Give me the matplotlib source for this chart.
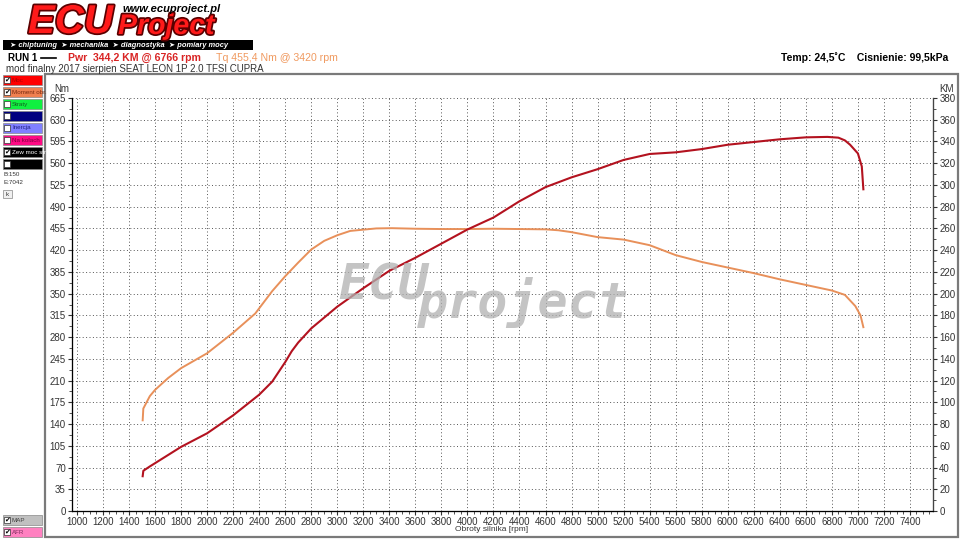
import matplotlib
matplotlib.use("Agg")
import matplotlib.pyplot as plt
from matplotlib.patches import Rectangle
from matplotlib.ticker import MultipleLocator
import matplotlib.patheffects as pe

plt.rcParams['font.family'] = ['Liberation Sans', 'DejaVu Sans']

# torque curve [rpm, Nm]
tq_rpm = [1505, 1510, 1560, 1600, 1700, 1800, 2000, 2200, 2370, 2500, 2600, 2700, 2800, 2900,
          3000, 3100, 3200, 3300, 3420, 3600, 3800, 4000, 4200, 4400, 4600, 4700, 4800, 4900,
          5000, 5200, 5400, 5600, 5800, 6000, 6200, 6400, 6600, 6800, 6900, 6980, 7020, 7042]
tq_nm = [146, 165, 185, 195, 214, 230, 254, 287, 318, 354, 378, 400, 421, 435,
         444, 451, 453, 455, 455.4, 454.5, 454, 454, 454.5, 454, 453.5, 452, 449, 445,
         441, 437, 428, 412, 401, 392, 383, 373, 364, 355, 348, 330, 315, 296]

# power curve [rpm, KM]
pwr_rpm = [1505, 1510, 1560, 1600, 1800, 2000, 2200, 2400, 2500, 2550, 2600, 2650, 2700, 2800,
           3000, 3200, 3400, 3600, 3800, 4000, 4200, 4400, 4600, 4800, 5000, 5200, 5400, 5600,
           5800, 6000, 6200, 6400, 6600, 6766, 6850, 6900, 6940, 7000, 7030, 7042]
pwr_km = [32, 37, 41, 44, 59, 71.5, 88, 107, 119, 128, 137, 147, 155, 168,
          188, 205, 221, 233, 246, 259, 270, 285, 298, 307, 314.5, 323, 328.5, 330,
          333, 337, 339.5, 342, 343.8, 344.2, 343.5, 341, 337, 329, 317, 296]

x_ticks = list(range(1000, 7401, 200))
nm_ticks = list(range(0, 666, 35))
km_ticks = list(range(0, 381, 20))

W, H = 960, 540


def fx(x):
    return x / W


def fy(y):
    return 1 - y / H


fig = plt.figure(figsize=(9.6, 5.4), dpi=100, facecolor='white')

# plot panel frame
fig.add_artist(Rectangle((fx(45), fy(537)), (958 - 45) / W, (537 - 74) / H,
                         transform=fig.transFigure, fill=False, edgecolor='#7a7a7a', lw=1.6))

ax = fig.add_axes([fx(72), fy(511), (933 - 72) / W, (511 - 98) / H])
ax.set_xlim(962, 7577)
ax.set_ylim(0, 665)
ax.set_xticks(x_ticks)
ax.set_yticks(nm_ticks)
ax.xaxis.set_minor_locator(MultipleLocator(50))
ax.yaxis.set_minor_locator(MultipleLocator(17.5))
ax.grid(False, which='minor')
ax.grid(True, which='major', linestyle=(0, (1, 2.5)), color='#555555', lw=0.7)
ax.spines['top'].set_visible(False)
for s in ['left', 'bottom', 'right']:
    ax.spines[s].set_color('#444444')
    ax.spines[s].set_linewidth(0.9)
ax.tick_params(axis='both', which='major', labelsize=7, colors='#333333', length=3, width=0.8, pad=1.5)
ax.tick_params(axis='both', which='minor', length=2, width=0.6, colors='#333333')

ax2 = ax.twinx()
ax2.set_ylim(0, 380)
ax2.set_yticks(km_ticks)
ax2.yaxis.set_minor_locator(MultipleLocator(10))
ax2.grid(False, which='both')
ax2.spines['top'].set_visible(False)
ax2.spines['right'].set_color('#444444')
ax2.tick_params(axis='y', which='major', labelsize=7, colors='#333333', length=3, width=0.8, pad=1.5)
ax2.tick_params(axis='y', which='minor', length=2, width=0.6, colors='#333333')

ax.plot(tq_rpm, tq_nm, color='#e8905a', lw=1.4, zorder=4)
ax2.plot(pwr_rpm, pwr_km, color='#b3121f', lw=1.5, zorder=5)

fig.text(fx(62), fy(89), 'Nm', fontsize=7, color='#333333', ha='center', va='center')
fig.text(fx(946), fy(89), 'KM', fontsize=7, color='#333333', ha='center', va='center')
fig.text(fx(492), fy(529.5), 'Obroty silnika [rpm]', fontsize=6, color='#333333',
         ha='center', va='center')

# watermark
wm = dict(family='DejaVu Sans Mono', style='oblique', weight='bold', fontsize=36,
          color='#b0b0b0', alpha=0.75, va='baseline', ha='left', zorder=1)
fig.text(fx(338), fy(300), 'ECU', **wm)
fig.text(fx(418), fy(318), 'project', **wm)

# logo
logo_fx = [pe.withStroke(linewidth=2.5, foreground='#5a0000')]
fig.text(fx(28), fy(33), 'ECU', fontsize=29, weight='bold', style='italic', color='#ff1a1a',
         va='baseline', path_effects=logo_fx)
fig.text(fx(118), fy(34), 'Project', fontsize=20.5, weight='bold', style='italic', color='#ff1a1a',
         va='baseline', path_effects=logo_fx)
fig.text(fx(122), fy(12), 'www.ecuproject.pl', fontsize=8, weight='bold', style='italic',
         color='black', va='baseline')
fig.add_artist(Rectangle((fx(3), fy(50)), 250 / W, 10 / H, transform=fig.transFigure,
                         facecolor='black', edgecolor='none'))
fig.text(fx(10), fy(45.5), '\u27a4 chiptuning  \u27a4 mechanika  \u27a4 diagnostyka  \u27a4 pomiary mocy',
         fontsize=5.4, weight='bold', style='italic', color='white', va='center')

# run header
fig.text(fx(8), fy(58), 'RUN 1', fontsize=7, weight='bold', color='black', va='center')
fig.add_artist(plt.Line2D([fx(41), fx(56)], [fy(58), fy(58)], transform=fig.transFigure,
                          color='black', lw=1.2))
fig.text(fx(68), fy(58), 'Pwr  344,2 KM @ 6766 rpm', fontsize=7.6, weight='bold',
         color='#d92424', va='center')
fig.text(fx(216), fy(58), 'Tq 455,4 Nm @ 3420 rpm', fontsize=7.6,
         color='#f09a60', va='center')
fig.text(fx(6), fy(69), 'mod finalny 2017 sierpien SEAT LEON 1P 2.0 TFSI CUPRA', fontsize=7,
         color='#333333', va='center')
fig.text(fx(948), fy(58), 'Temp: 24,5\u02daC    Cisnienie: 99,5kPa', fontsize=7.5, weight='bold',
         color='black', va='center', ha='right')

# left legend panel
panel_items = [
    ('Moc', '#ff0000', '#b00000', True),
    ('Moment obr.', '#f08050', '#7a2a10', True),
    ('Straty', '#10f040', '#106020', False),
    ('', '#000080', 'white', False),
    ('Inercja', '#8080ff', '#202080', False),
    ('Na kolach', '#ff0a84', '#800040', False),
    ('Zew moc str', '#000000', 'white', True),
    ('', '#000000', 'white', False),
]


def panel_box(yc, label, face, tcol, checked):
    fig.add_artist(Rectangle((fx(3), fy(yc + 5)), 39 / W, 10 / H, transform=fig.transFigure,
                             facecolor=face, edgecolor='#888888', lw=0.5))
    fig.add_artist(Rectangle((fx(4), fy(yc + 3)), 6 / W, 6 / H, transform=fig.transFigure,
                             facecolor='white', edgecolor='#333333', lw=0.5))
    if checked:
        fig.text(fx(7), fy(yc), '\u2714', fontsize=5, color='black', ha='center', va='center')
    fig.text(fx(12), fy(yc), label, fontsize=4.5, color=tcol, va='center')


for i, (label, face, tcol, checked) in enumerate(panel_items):
    panel_box(80 + 12 * i, label, face, tcol, checked)

fig.text(fx(3), fy(175), 'B:150', fontsize=4.5, color='#333333', va='center')
fig.text(fx(3), fy(183), 'E:7042', fontsize=4.5, color='#333333', va='center')
fig.add_artist(Rectangle((fx(3), fy(198)), 9 / W, 8 / H, transform=fig.transFigure,
                         facecolor='#f0f0f0', edgecolor='#888888', lw=0.5))
fig.text(fx(7.5), fy(194), 'k', fontsize=4.5, color='#333333', va='center', ha='center')

panel_box(520, 'MAP', '#c0c0c0', '#404040', True)
panel_box(532, 'AFR', '#ff80c0', '#803060', True)

fig.savefig('out.png', dpi=100, facecolor='white')
